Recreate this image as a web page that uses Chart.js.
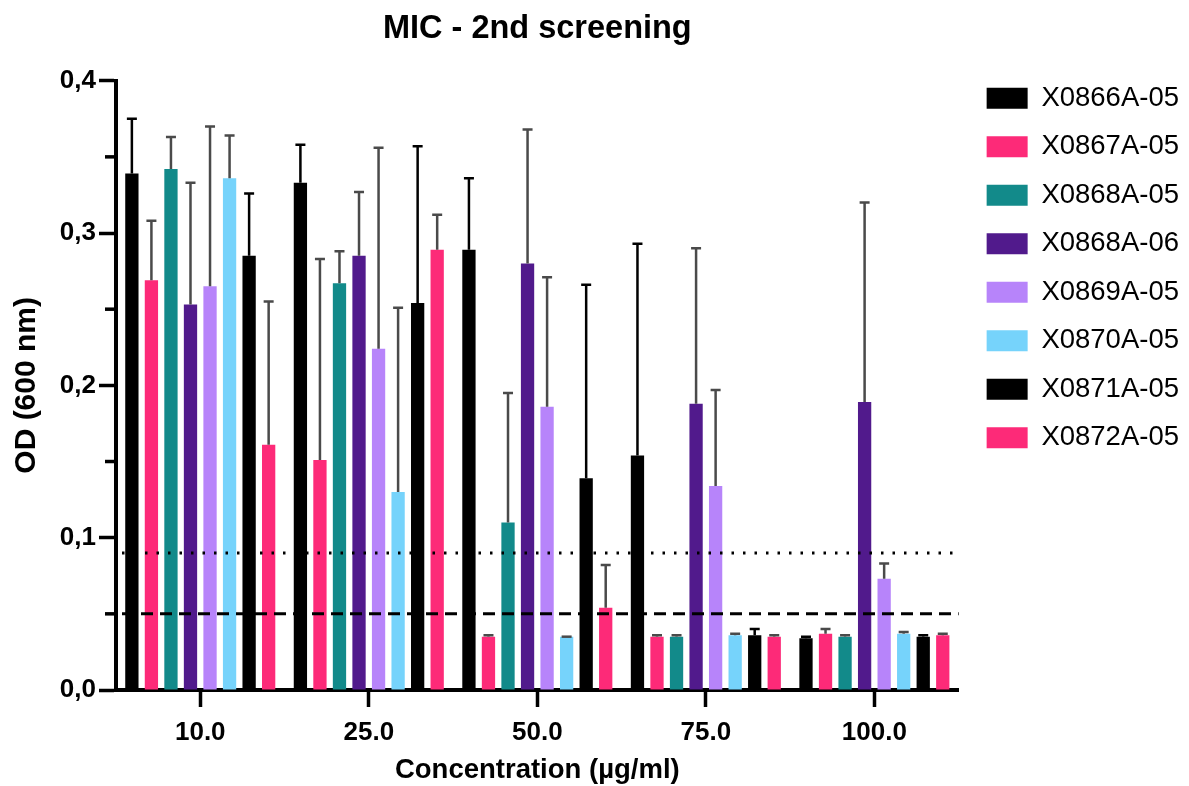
<!DOCTYPE html>
<html>
<head>
<meta charset="utf-8">
<title>MIC - 2nd screening</title>
<script src="https://cdn.jsdelivr.net/npm/chart.js@4.4.1/dist/chart.umd.min.js"></script>
<style>
  html, body { margin: 0; padding: 0; background: #fff; }
  #wrap { width: 1189px; height: 786px; }
</style>
</head>
<body>
<div id="wrap"><canvas id="mic" width="1189" height="786"></canvas></div>
<script>
"use strict";

const CONCENTRATIONS = ["10.0", "25.0", "50.0", "75.0", "100.0"];
const STRAINS = [
  "X0866A-05", "X0867A-05", "X0868A-05", "X0868A-06",
  "X0869A-05", "X0870A-05", "X0871A-05", "X0872A-05",
];
const COLORS = [
  "#000000", "#fd2a78", "#128a8a", "#511a8c",
  "#b784fa", "#76d3fb", "#000000", "#fd2a78",
];
const ERR_COLORS = [
  "#000000", "#4a4a4a", "#4a4a4a", "#4a4a4a",
  "#4a4a4a", "#4a4a4a", "#000000", "#4a4a4a",
];

// mean OD600 per strain, one value per concentration
const OD_X0866A_05 = [0.339, 0.333, 0.289, 0.154, 0.034];
const OD_X0867A_05 = [0.269, 0.151, 0.035, 0.035, 0.037];
const OD_X0868A_05 = [0.342, 0.267, 0.110, 0.035, 0.035];
const OD_X0868A_06 = [0.253, 0.285, 0.280, 0.188, 0.189];
const OD_X0869A_05 = [0.265, 0.224, 0.186, 0.134, 0.073];
const OD_X0870A_05 = [0.336, 0.130, 0.035, 0.036, 0.037];
const OD_X0871A_05 = [0.285, 0.254, 0.139, 0.036, 0.035];
const OD_X0872A_05 = [0.161, 0.289, 0.054, 0.035, 0.036];

// standard deviations (drawn upward only)
const SD_X0866A_05 = [0.036, 0.025, 0.047, 0.139, 0.001];
const SD_X0867A_05 = [0.039, 0.132, 0.001, 0.001, 0.003];
const SD_X0868A_05 = [0.021, 0.021, 0.085, 0.001, 0.001];
const SD_X0868A_06 = [0.080, 0.042, 0.088, 0.102, 0.131];
const SD_X0869A_05 = [0.105, 0.132, 0.085, 0.063, 0.010];
const SD_X0870A_05 = [0.028, 0.121, 0.000, 0.001, 0.001];
const SD_X0871A_05 = [0.041, 0.103, 0.127, 0.004, 0.001];
const SD_X0872A_05 = [0.094, 0.023, 0.028, 0.001, 0.001];

const MEANS = [OD_X0866A_05, OD_X0867A_05, OD_X0868A_05, OD_X0868A_06,
  OD_X0869A_05, OD_X0870A_05, OD_X0871A_05, OD_X0872A_05];
const SDS = [SD_X0866A_05, SD_X0867A_05, SD_X0868A_05, SD_X0868A_06,
  SD_X0869A_05, SD_X0870A_05, SD_X0871A_05, SD_X0872A_05];

// growth cut-offs
const DOTTED_CUTOFF = 0.09;
const DASHED_CUTOFF = 0.05;

const FONT = '"Liberation Sans", Arial, Helvetica, sans-serif';
Chart.defaults.font.family = FONT;
Chart.defaults.color = "#000";

const isMajor = (v) => Math.round(v * 100) % 10 === 0;

const errorBars = {
  id: "errorBars",
  afterDatasetsDraw(chart) {
    const { ctx } = chart;
    const y = chart.scales.y;
    chart.data.datasets.forEach((ds, i) => {
      const meta = chart.getDatasetMeta(i);
      if (meta.hidden) return;
      ctx.save();
      ctx.strokeStyle = ds.errColor;
      ctx.lineWidth = 2.5;
      meta.data.forEach((bar, j) => {
        const top = y.getPixelForValue(ds.data[j] + ds.sd[j]);
        ctx.beginPath();
        ctx.moveTo(bar.x, bar.y);
        ctx.lineTo(bar.x, top);
        ctx.moveTo(bar.x - 5, top);
        ctx.lineTo(bar.x + 5, top);
        ctx.stroke();
      });
      ctx.restore();
    });
  },
};

const cutoffLines = {
  id: "cutoffLines",
  afterDatasetsDraw(chart) {
    const { ctx, chartArea } = chart;
    const y = chart.scales.y;
    [[DOTTED_CUTOFF, [2.5, 9]], [DASHED_CUTOFF, [12, 7]]].forEach(([v, dash]) => {
      const py = y.getPixelForValue(v);
      ctx.save();
      ctx.strokeStyle = "#000";
      ctx.lineWidth = 3;
      ctx.setLineDash(dash);
      ctx.beginPath();
      ctx.moveTo(chartArea.left + 6, py);
      ctx.lineTo(chartArea.right, py);
      ctx.stroke();
      ctx.restore();
    });
  },
};

// short ticks halfway between the labelled ones
const minorTicks = {
  id: "minorTicks",
  afterDraw(chart) {
    const { ctx, chartArea } = chart;
    const y = chart.scales.y;
    ctx.save();
    ctx.strokeStyle = "#000";
    ctx.lineWidth = 3.5;
    y.ticks.forEach((t) => {
      if (isMajor(t.value)) return;
      const py = y.getPixelForValue(t.value);
      ctx.beginPath();
      ctx.moveTo(chartArea.left - 11, py);
      ctx.lineTo(chartArea.left, py);
      ctx.stroke();
    });
    ctx.restore();
  },
};

new Chart(document.getElementById("mic"), {
  type: "bar",
  data: {
    labels: CONCENTRATIONS,
    datasets: STRAINS.map((name, i) => ({
      label: name,
      data: MEANS[i],
      sd: SDS[i],
      errColor: ERR_COLORS[i],
      backgroundColor: COLORS[i],
      borderWidth: 0,
      categoryPercentage: 0.9275,
      barPercentage: 0.68,
    })),
  },
  options: {
    responsive: false,
    animation: false,
    layout: { padding: 0 },
    plugins: {
      title: {
        display: true,
        text: "MIC - 2nd screening",
        fullSize: false,
        font: { size: 32.5, weight: "bold" },
        padding: { top: 10, bottom: 31.7 },
      },
      legend: {
        position: "right",
        align: "start",
        maxWidth: 260,
        title: { display: true, text: "", font: { size: 12 }, padding: { top: 49, bottom: 0 } },
        labels: {
          boxWidth: 41,
          boxHeight: 21,
          padding: 21,
          font: { size: 27.5 },
          color: "#000",
        },
      },
      tooltip: { enabled: false },
    },
    scales: {
      x: {
        grid: { display: true, drawOnChartArea: false, offset: false, tickLength: 17, tickWidth: 3.5, tickColor: "#000" },
        border: { display: true, width: 4, color: "#000" },
        ticks: { padding: 10, font: { size: 26, weight: "bold" } },
        title: {
          display: true,
          text: "Concentration (µg/ml)",
          font: { size: 27.5, weight: "bold", lineHeight: 1.1 },
          padding: 0,
        },
        afterFit: (s) => { s.height = 96; },
      },
      y: {
        min: 0,
        max: 0.4,
        grid: {
          display: true,
          drawOnChartArea: false,
          tickLength: 17,
          tickWidth: 3.5,
          tickColor: (c) => (c.tick && isMajor(c.tick.value) ? "#000" : "rgba(0,0,0,0)"),
        },
        border: { display: true, width: 4, color: "#000" },
        ticks: {
          stepSize: 0.05,
          padding: 3,
          font: { size: 26, weight: "bold" },
          callback: (v) => (isMajor(v) ? (Math.round(v * 10) / 10).toFixed(1).replace(".", ",") : ""),
        },
        title: {
          display: true,
          text: "OD (600 nm)",
          font: { size: 30, weight: "bold" },
          padding: { top: 9, bottom: 0 },
        },
        afterFit: (s) => { s.width = 116; },
      },
      // spacer between plot and legend
      gap: {
        type: "linear",
        position: "right",
        display: true,
        grid: { display: false },
        border: { display: false },
        ticks: { display: false },
        afterFit: (s) => { s.width = 7; },
      },
    },
  },
  plugins: [errorBars, cutoffLines, minorTicks],
});
</script>
</body>
</html>
